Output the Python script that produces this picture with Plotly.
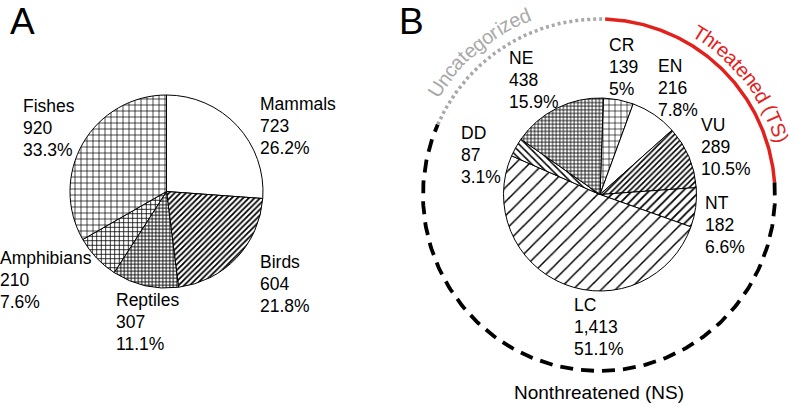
import math
import plotly.graph_objects as go

W, H = 796, 406

# ---------------- data ----------------
# Panel A: species by class
a_labels = ["Mammals", "Birds", "Reptiles", "Amphibians", "Fishes"]
a_counts = [723, 604, 307, 210, 920]
a_pct = ["26.2%", "21.8%", "11.1%", "7.6%", "33.3%"]

# Panel B: species by IUCN category
b_labels = ["CR", "EN", "VU", "NT", "LC", "DD", "NE"]
b_counts = [139, 216, 289, 182, 1413, 87, 438]
b_pct = ["5%", "7.8%", "10.5%", "6.6%", "51.1%", "3.1%", "15.9%"]

# groups of panel B categories (for outer arcs)
group_threatened = ["CR", "EN", "VU"]
group_nonthreatened = ["NT", "LC"]
group_uncategorized = ["DD", "NE"]
group_names = ["Threatened (TS)", "Nonthreatened (NS)", "Uncategorized"]

# ---------------- styles ----------------
FONT = "Arial, Liberation Sans, Helvetica, sans-serif"
LBL = 17.5
a_shapes = ["", "/", "+", "+", "+"]
a_sizes = [8, 4, 3.5, 4.5, 6]
a_solid = [0.2, 0.45, 0.45, 0.32, 0.22]
b_shapes = ["+", "", "/", "/", "/", "\\", "+"]
b_sizes = [6, 8, 4, 6, 10, 5, 3.6]
b_solid = [0.2, 0.2, 0.4, 0.3, 0.15, 0.3, 0.4]

# label anchor positions (left x, y of first line), pixels
a_label_pos = [(260, 104), (260, 262), (116, 300), (0, 258), (23, 106)]
b_label_pos = [(609, 45), (658, 66), (701, 125), (705, 203), (574, 305), (461, 133), (509, 58)]
LINE = 22.2

A_C, A_R = (166.5, 191.5), 96.5
B_C, B_R = (600, 194.5), 96.5
B_ROT = 2
ARC_C, ARC_R = (599, 195), 176

fig = go.Figure()


def dom(c, r):
    cx, cy = c
    return dict(x=[(cx - r) / W, (cx + r) / W], y=[(H - cy - r) / H, (H - cy + r) / H])


fig.add_trace(go.Pie(
    values=a_counts, labels=a_labels, sort=False, direction="clockwise", rotation=0,
    domain=dom(A_C, A_R), textinfo="none", showlegend=False,
    marker=dict(colors=["white"] * len(a_counts), line=dict(color="black", width=1),
                pattern=dict(shape=a_shapes, size=a_sizes, solidity=a_solid,
                             fgcolor="black", bgcolor="white", fillmode="replace"))))

fig.add_trace(go.Pie(
    values=b_counts, labels=b_labels, sort=False, direction="clockwise", rotation=B_ROT,
    domain=dom(B_C, B_R), textinfo="none", showlegend=False,
    marker=dict(colors=["white"] * len(b_counts), line=dict(color="black", width=1),
                pattern=dict(shape=b_shapes, size=b_sizes, solidity=b_solid,
                             fgcolor="black", bgcolor="white", fillmode="replace"))))

# ---------- outer arcs from cumulative fractions ----------
total_b = sum(b_counts)
idx = {k: i for i, k in enumerate(b_labels)}
frac_t = sum(b_counts[idx[k]] for k in group_threatened) / total_b
frac_n = sum(b_counts[idx[k]] for k in group_nonthreatened) / total_b
a0 = B_ROT
a1 = a0 + 360 * frac_t
a2 = a1 + 360 * frac_n
a3 = B_ROT + 360


def arc_pts(s, e, n=200):
    xs, ys = [], []
    for i in range(n + 1):
        t = math.radians(s + (e - s) * i / n)
        xs.append(ARC_C[0] + ARC_R * math.sin(t))
        ys.append(ARC_C[1] - ARC_R * math.cos(t))
    return xs, ys


for (s, e), col, dash, w in [((a0, a1), "#e3211c", "solid", 3.5),
                               ((a1, a2), "black", "13px,8px", 3.8),
                               ((a2, a3), "#a9a9a9", "3px,3px", 3.5)]:
    xs, ys = arc_pts(s, e)
    fig.add_trace(go.Scatter(x=xs, y=ys, mode="lines", hoverinfo="skip", showlegend=False,
                             line=dict(color=col, width=w, dash=dash)))

# ---------- labels ----------
ann = []


def add_text(x, y, t, size=LBL, color="black", xanchor="left", angle=0):
    ann.append(dict(x=x, y=y, xref="x", yref="y", text=t, showarrow=False,
                    xanchor=xanchor, yanchor="middle", textangle=angle,
                    borderpad=0, borderwidth=0,
                    font=dict(family=FONT, size=size, color=color)))


for lab, c, p, (x, y) in zip(a_labels, a_counts, a_pct, a_label_pos):
    for k, t in enumerate([lab, f"{c:,}", p]):
        add_text(x, y + k * LINE, t)

for lab, c, p, (x, y) in zip(b_labels, b_counts, b_pct, b_label_pos):
    for k, t in enumerate([lab, f"{c:,}", p]):
        add_text(x, y + k * LINE, t)

add_text(599, 392, group_names[1], size=19, xanchor="center")
add_text(10, 21, "A", size=37)
add_text(399, 21, "B", size=37)

# ---------- curved text ----------
CW = {"U": 722, "n": 556, "c": 500, "a": 556, "t": 278, "e": 556, "g": 556, "o": 556,
      "r": 333, "i": 222, "z": 500, "d": 556, "T": 611, "h": 556, " ": 278, "(": 333,
      ")": 333, "S": 667}


def arc_text(text, center_deg, R, size, color):
    widths = [CW.get(ch, 556) * size / 1000 for ch in text]
    total = sum(widths)
    start = center_deg - math.degrees(total / R) / 2
    pos = 0
    for ch, w in zip(text, widths):
        th = start + math.degrees((pos + w / 2) / R)
        pos += w
        if ch == " ":
            continue
        t = math.radians(th)
        x = ARC_C[0] + R * math.sin(t)
        y = ARC_C[1] - R * math.cos(t)
        ang = th if th <= 180 else th - 360
        add_text(x, y, ch, size=size, color=color, xanchor="center", angle=ang)


arc_text(group_names[2], 320, 194, 20, "#a9a9a9")
arc_text(group_names[0], 52, 191, 20, "#e3211c")

fig.update_layout(
    width=W, height=H, margin=dict(l=0, r=0, t=0, b=0),
    paper_bgcolor="white", plot_bgcolor="white", showlegend=False,
    xaxis=dict(range=[0, W], visible=False, fixedrange=True, domain=[0, 1]),
    yaxis=dict(range=[H, 0], visible=False, fixedrange=True, domain=[0, 1]),
    annotations=ann,
)

fig.write_html("out.html", config={"displayModeBar": False},
               post_script="document.body.style.margin='0px';document.body.style.overflow='hidden';")
